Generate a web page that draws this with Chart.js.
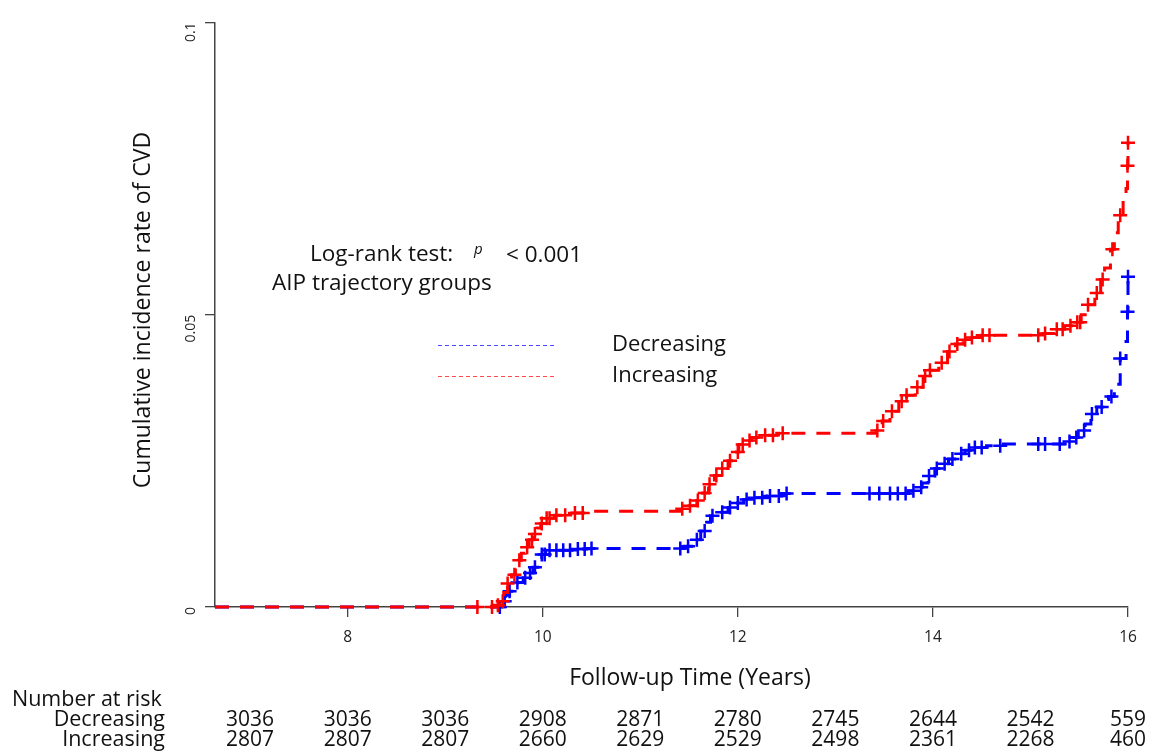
<!DOCTYPE html>
<html lang="en">
<head>
  <meta charset="UTF-8">
  <title>Cumulative incidence of CVD by AIP trajectory group</title>
  <script src="https://cdn.jsdelivr.net/npm/chart.js"></script>
  <style>
    html, body { margin: 0; padding: 0; background: #fff; }
  </style>
</head>
<body>
  <canvas id="cvdChart" width="1153" height="752"></canvas>

  <script>
    // axis ticks and number-at-risk table
    var xTicks = [8, 10, 12, 14, 16];
    var yTicks = [0, 0.05, 0.1];
    var riskYears = [7, 8, 9, 10, 11, 12, 13, 14, 15, 16];
    var riskDecreasing = [3036, 3036, 3036, 2908, 2871, 2780, 2745, 2644, 2542, 559];
    var riskIncreasing = [2807, 2807, 2807, 2660, 2629, 2529, 2498, 2361, 2268, 460];

    // Increasing group: step curve (time, cumulative incidence) and censor times
    var incTime = [6.64, 9.50, 9.56, 9.60, 9.64, 9.68, 9.72, 9.75, 9.78, 9.82, 9.86, 9.90, 9.94, 9.98, 10.03, 10.12, 10.30, 10.45,
      11.42, 11.50, 11.58, 11.64, 11.70, 11.76, 11.83, 11.90, 11.96, 12.01, 12.06, 12.14, 12.25, 12.40,
      13.42, 13.48, 13.56, 13.65, 13.73, 13.82, 13.90, 13.96, 14.06, 14.15, 14.23, 14.31, 14.40, 14.50,
      15.10, 15.25, 15.35, 15.45, 15.52, 15.58, 15.66, 15.72, 15.76, 15.82, 15.86, 15.90, 15.95, 15.98, 15.995, 16.0];
    var incRate = [0, 0.0003, 0.0010, 0.0025, 0.0040, 0.0055, 0.0068, 0.0080, 0.0092, 0.0102, 0.0115, 0.0125, 0.0135, 0.0143, 0.0152, 0.0157, 0.0161, 0.0164,
      0.0168, 0.0173, 0.0182, 0.0195, 0.0210, 0.0225, 0.0237, 0.0250, 0.0265, 0.0278, 0.0285, 0.0290, 0.0294, 0.0297,
      0.0302, 0.0318, 0.0335, 0.0352, 0.0362, 0.0376, 0.0395, 0.0405, 0.0418, 0.0437, 0.0450, 0.0457, 0.0461, 0.0465,
      0.0468, 0.0475, 0.0481, 0.0487, 0.0500, 0.0517, 0.0537, 0.0560, 0.0580, 0.0612, 0.0640, 0.0670, 0.0700, 0.0716, 0.0755, 0.0794];
    var incCensor = [9.33, 9.48, 9.54, 9.59, 9.64, 9.71, 9.76, 9.84, 9.89, 9.92, 9.99, 10.04, 10.07, 10.14, 10.23, 10.33, 10.41,
      11.43, 11.51, 11.59, 11.66, 11.71, 11.78, 11.84, 11.92, 12.0, 12.05, 12.12, 12.19, 12.28, 12.36, 12.46,
      13.43, 13.49, 13.58, 13.68, 13.73, 13.84, 13.92, 13.97, 14.09, 14.17, 14.25, 14.33, 14.40, 14.51, 14.58,
      15.08, 15.15, 15.27, 15.33, 15.41, 15.48, 15.51, 15.59, 15.68, 15.74, 15.84, 15.92, 15.995, 16.0];

    // Decreasing group
    var decTime = [6.64, 9.58, 9.62, 9.66, 9.70, 9.74, 9.80, 9.85, 9.90, 9.95, 9.99, 10.03, 10.30, 10.45,
      11.45, 11.55, 11.62, 11.68, 11.72, 11.82, 11.90, 11.98, 12.06, 12.15, 12.30, 12.45,
      13.75, 13.83, 13.89, 13.95, 14.02, 14.08, 14.16, 14.25, 14.33, 14.43, 14.55, 14.70,
      15.35, 15.42, 15.49, 15.56, 15.62, 15.68, 15.74, 15.80, 15.86, 15.92, 15.98, 15.995, 16.0];
    var decRate = [0, 0.0010, 0.0020, 0.0027, 0.0035, 0.0042, 0.0050, 0.0058, 0.0068, 0.0080, 0.0090, 0.0097, 0.0099, 0.0100,
      0.0104, 0.0115, 0.0130, 0.0145, 0.0156, 0.0162, 0.0170, 0.0178, 0.0184, 0.0187, 0.0190, 0.0194,
      0.0199, 0.0205, 0.0212, 0.0224, 0.0237, 0.0245, 0.0253, 0.0262, 0.0268, 0.0273, 0.0276, 0.0279,
      0.0283, 0.0290, 0.0302, 0.0313, 0.0330, 0.0342, 0.0355, 0.0360, 0.0381, 0.0425, 0.0454, 0.0505, 0.0565];
    var decCensor = [9.56, 9.61, 9.66, 9.74, 9.82, 9.87, 9.92, 9.99, 10.02, 10.07, 10.14, 10.21, 10.28, 10.36, 10.43, 10.50,
      11.41, 11.49, 11.58, 11.66, 11.74, 11.84, 11.92, 12.0, 12.09, 12.17, 12.25, 12.33, 12.42, 12.50,
      13.35, 13.45, 13.56, 13.64, 13.72, 13.80, 13.88, 13.96, 14.04, 14.12, 14.20, 14.29, 14.37, 14.43, 14.50, 14.69,
      15.08, 15.15, 15.30, 15.40, 15.47, 15.55, 15.63, 15.73, 15.83, 15.92, 15.995, 16.0];

    var RED = '#ff0000';
    var BLUE = '#0000ff';
    var TEXT_FONT = '"Open Sans"';

    function curvePoints(times, rates) {
      return times.map(function(t, i) { return { x: t, y: rates[i] }; });
    }

    // censor mark sits on the step curve at that time
    function censorPoints(censor, times, rates) {
      return censor.map(function(t) {
        var v = rates[0];
        for (var i = 0; i < times.length; i++) {
          if (times[i] <= t) v = rates[i];
        }
        return { x: t, y: v };
      });
    }

    var annotations = {
      id: 'annotations',
      afterDraw: function(chart) {
        var ctx = chart.ctx;
        var xs = chart.scales.x;
        ctx.save();
        ctx.fillStyle = '#111';
        ctx.textBaseline = 'middle';

        // axis titles
        ctx.font = '23px ' + TEXT_FONT;
        ctx.textAlign = 'center';
        ctx.fillText('Follow-up Time (Years)', 690, 678);
        ctx.save();
        ctx.translate(143, 310);
        ctx.rotate(-Math.PI / 2);
        ctx.fillText('Cumulative incidence rate of CVD', 0, 0);
        ctx.restore();

        // log-rank text
        ctx.font = '22.5px ' + TEXT_FONT;
        ctx.textAlign = 'left';
        ctx.fillText('Log-rank test:', 310, 255);
        ctx.fillText('< 0.001', 506, 256);
        ctx.fillText('AIP trajectory groups', 272, 284);
        ctx.font = 'italic 15px ' + TEXT_FONT;
        ctx.fillText('p', 474, 250);

        // legend
        var legendRows = [
          { label: 'Decreasing', color: '#4848ff', y: 345 },
          { label: 'Increasing', color: '#ff4848', y: 376 }
        ];
        legendRows.forEach(function(row) {
          ctx.save();
          ctx.strokeStyle = row.color;
          ctx.lineWidth = 1.2;
          ctx.setLineDash([4, 3]);
          ctx.beginPath();
          ctx.moveTo(438, row.y + 0.5);
          ctx.lineTo(556, row.y + 0.5);
          ctx.stroke();
          ctx.restore();
          ctx.font = '22px ' + TEXT_FONT;
          ctx.fillText(row.label, 612, row.y);
        });

        // number at risk table
        ctx.font = '21.5px ' + TEXT_FONT;
        ctx.textAlign = 'left';
        ctx.fillText('Number at risk', 12, 700);
        ctx.textAlign = 'right';
        ctx.fillText('Decreasing', 165, 720);
        ctx.fillText('Increasing', 165, 740);
        ctx.font = '21px ' + TEXT_FONT;
        ctx.textAlign = 'center';
        riskYears.forEach(function(yr, i) {
          var px = xs.getPixelForValue(yr);
          ctx.fillText(String(riskDecreasing[i]), px, 720);
          ctx.fillText(String(riskIncreasing[i]), px, 740);
        });
        ctx.restore();
      }
    };

    var ctx = document.getElementById('cvdChart').getContext('2d');
    var chart = new Chart(ctx, {
      type: 'scatter',
      data: {
        datasets: [
          {
            label: 'Increasing',
            data: curvePoints(incTime, incRate),
            showLine: true,
            stepped: 'before',
            borderColor: RED,
            borderWidth: 3,
            borderDash: [14, 11],
            pointRadius: 0,
            clip: false
          },
          {
            label: 'Increasing censored',
            data: censorPoints(incCensor, incTime, incRate),
            showLine: false,
            pointStyle: 'cross',
            pointRadius: 7,
            pointBorderWidth: 2.5,
            pointBorderColor: RED,
            pointBackgroundColor: RED,
            clip: false
          },
          {
            label: 'Decreasing',
            data: curvePoints(decTime, decRate),
            showLine: true,
            stepped: 'before',
            borderColor: BLUE,
            borderWidth: 3,
            borderDash: [14, 11],
            pointRadius: 0,
            clip: false
          },
          {
            label: 'Decreasing censored',
            data: censorPoints(decCensor, decTime, decRate),
            showLine: false,
            pointStyle: 'cross',
            pointRadius: 7,
            pointBorderWidth: 2.5,
            pointBorderColor: BLUE,
            pointBackgroundColor: BLUE,
            clip: false
          }
        ]
      },
      options: {
        responsive: false,
        animation: false,
        layout: { padding: { top: 19, right: 25, left: 0, bottom: 0 } },
        scales: {
          x: {
            type: 'linear',
            min: 6.64,
            max: 16,
            afterBuildTicks: function(s) { s.ticks = xTicks.map(function(v) { return { value: v }; }); },
            afterFit: function(s) { s.height = 145; },
            grid: { display: true, drawOnChartArea: false, drawTicks: true, tickLength: 10, color: '#444', lineWidth: 1.3 },
            border: { display: true, color: '#444', width: 1.5 },
            ticks: { font: { family: TEXT_FONT, size: 15.5 }, color: '#222', padding: 11, maxRotation: 0,
                     callback: function(v) { return String(v); } }
          },
          y: {
            type: 'linear',
            min: 0,
            max: 0.1,
            afterBuildTicks: function(s) { s.ticks = yTicks.map(function(v) { return { value: v }; }); },
            afterFit: function(s) { s.width = 215; },
            grid: { display: true, drawOnChartArea: false, drawTicks: true, tickLength: 10, color: '#444', lineWidth: 1.3 },
            border: { display: true, color: '#444', width: 1.5 },
            ticks: { font: { family: TEXT_FONT, size: 14 }, color: '#222', padding: 14, minRotation: 90, maxRotation: 90,
                     callback: function(v) { return String(v); } }
          }
        },
        plugins: {
          legend: { display: false },
          tooltip: { enabled: false }
        }
      },
      plugins: [annotations]
    });
  </script>
</body>
</html>
